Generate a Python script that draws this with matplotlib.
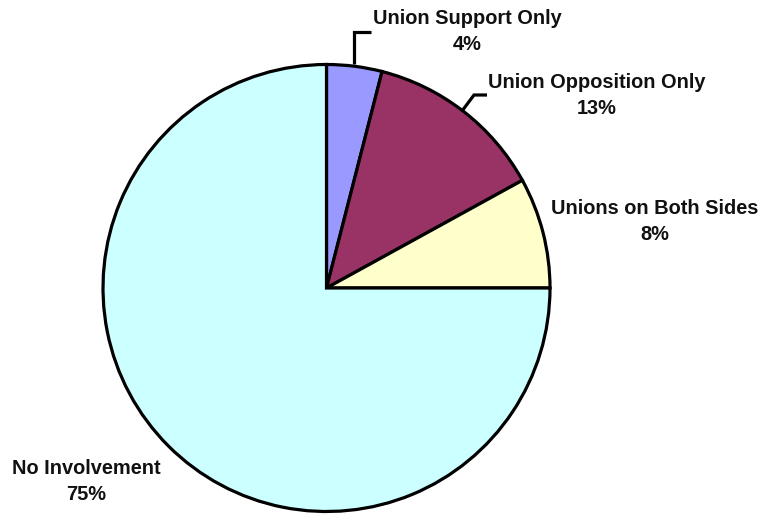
import matplotlib

matplotlib.use("Agg")

import matplotlib.pyplot as plt

labels = ["Union Support Only", "Union Opposition Only", "Unions on Both Sides", "No Involvement"]
shares = [4, 13, 8, 75]
colors = ["#9999FF", "#993366", "#FFFFCC", "#CCFFFF"]

W, H = 766, 514
fig = plt.figure(figsize=(W / 100, H / 100), dpi=100)
ax = fig.add_axes([0, 0, 1, 1])

cx, cy, r = 326.5, H - 288, 223.5
ax.pie(
    shares,
    colors=colors,
    startangle=90,
    counterclock=False,
    center=(cx, cy),
    radius=r,
    wedgeprops=dict(edgecolor="black", linewidth=2.3),
    frame=True,
)
ax.set_xlim(0, W)
ax.set_ylim(0, H)
ax.set_aspect("equal")
ax.axis("off")

# label anchor points (pixel coords from top-left)
label_pos = [(467, 19), (597, 82), (655, 208), (86, 468)]
for name, val, (x, y) in zip(labels, shares, label_pos):
    ax.text(x, H - y, name, ha="center", va="center", fontsize=14.4,
            fontweight="bold", family="Liberation Sans", color="#111111")
    ax.text(x, H - y - 26, f"{val}%", ha="center", va="center", fontsize=14.4,
            fontweight="bold", family="Liberation Sans", color="#111111")

# leader lines
ax.plot([354, 354, 371], [H - 64, H - 32, H - 32], color="black", lw=2.3,
        solid_capstyle="butt", solid_joinstyle="miter")
ax.plot([462, 474, 487], [H - 111, H - 95, H - 95], color="black", lw=2.3,
        solid_capstyle="butt", solid_joinstyle="miter")

fig.savefig("out.png", dpi=100)
